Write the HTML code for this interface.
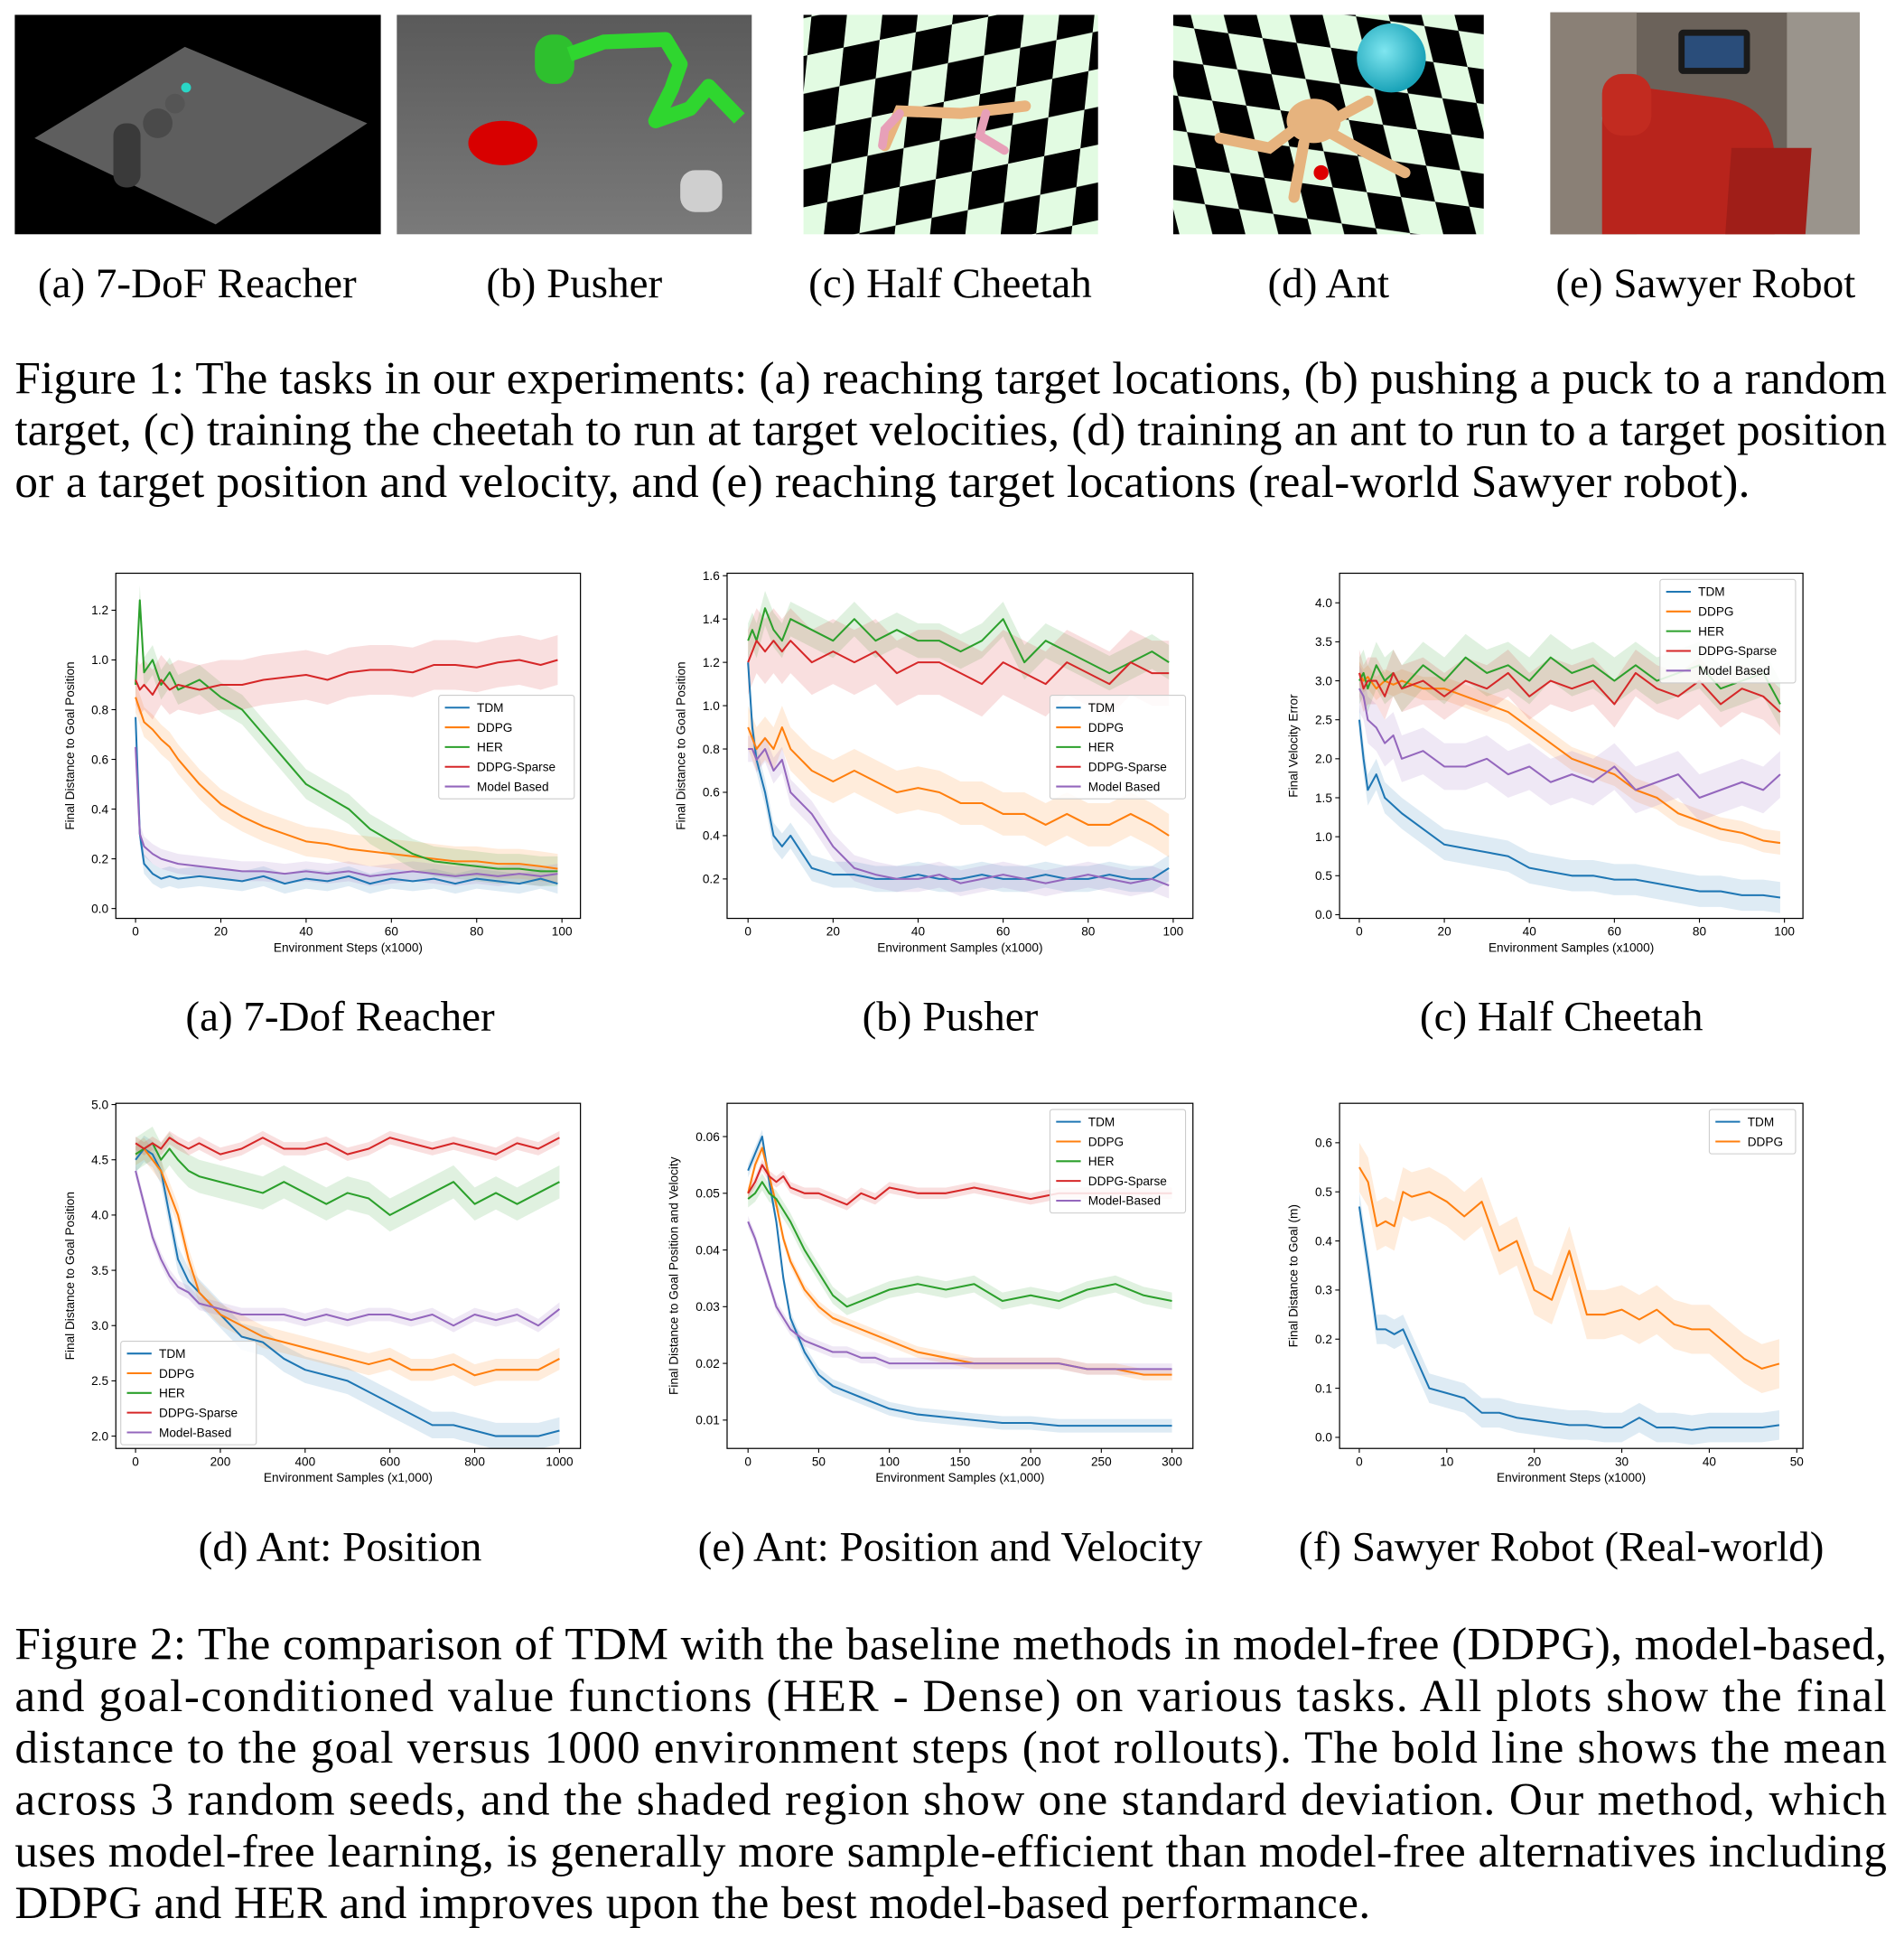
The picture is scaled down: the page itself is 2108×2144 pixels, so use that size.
<!DOCTYPE html>
<html><head><meta charset="utf-8"><style>
html,body{margin:0;padding:0;background:#fff;}
svg{display:block;}
</style></head><body>
<svg id="root" width="2108" height="2144" viewBox="0 0 1545 1571.3" xmlns="http://www.w3.org/2000/svg">
<defs>
<pattern id="chk" width="60" height="60" patternUnits="userSpaceOnUse" patternTransform="rotate(-12) skewX(-18)">
<rect width="60" height="60" fill="#e2fbe2"/><rect width="30" height="30" fill="#000"/><rect x="30" y="30" width="30" height="30" fill="#000"/>
</pattern>
<pattern id="chk2" width="56" height="56" patternUnits="userSpaceOnUse" patternTransform="rotate(8) skewX(22)">
<rect width="56" height="56" fill="#e2fbe2"/><rect width="28" height="28" fill="#000"/><rect x="28" y="28" width="28" height="28" fill="#000"/>
</pattern>
<linearGradient id="gpush" x1="0" y1="0" x2="0" y2="1"><stop offset="0" stop-color="#5a5a5a"/><stop offset="1" stop-color="#7a7a7a"/></linearGradient>
<radialGradient id="gball" cx="0.4" cy="0.4" r="0.6"><stop offset="0" stop-color="#7fe6f0"/><stop offset="1" stop-color="#1aa3b8"/></radialGradient>
</defs>

<g>
<rect x="12" y="12" width="297" height="178" fill="#000"/>
<polygon points="28,112 150,38 298,100 175,182" fill="#5e5e5e"/>
<rect x="92" y="100" width="22" height="52" rx="10" fill="#3a3a3a"/>
<circle cx="128" cy="100" r="12" fill="#4a4a4a"/><circle cx="142" cy="84" r="8" fill="#555"/>
<circle cx="151" cy="71" r="4" fill="#2ad6c6"/>
</g>
<g>
<rect x="322" y="12" width="288" height="178" fill="url(#gpush)"/>
<ellipse cx="408" cy="116" rx="28" ry="18" fill="#d80000"/>
<rect x="434" y="28" width="32" height="40" rx="14" fill="#2ec02e"/>
<polyline points="462,44 490,34 540,32 552,52 545,72 532,98 560,88 575,70 600,96" fill="none" stroke="#2fd62f" stroke-width="12" stroke-linejoin="round"/>
<rect x="552" y="138" width="34" height="34" rx="12" fill="#cfcfcf"/>
</g>
<g>
<rect x="652" y="12" width="239" height="178" fill="url(#chk)"/>
<polyline points="718,118 730,90 780,92 815,88 832,86" fill="none" stroke="#e9b37e" stroke-width="9" stroke-linecap="round"/>
<polyline points="730,92 718,105 716,118" fill="none" stroke="#e7a0b8" stroke-width="7" stroke-linecap="round"/>
<polyline points="800,92 795,110 815,122" fill="none" stroke="#e7a0b8" stroke-width="7" stroke-linecap="round"/>
</g>
<g>
<rect x="952" y="12" width="252" height="178" fill="url(#chk2)"/>
<circle cx="1129" cy="47" r="28" fill="url(#gball)"/>
<ellipse cx="1066" cy="98" rx="22" ry="18" fill="#e6b37e"/>
<polyline points="1050,105 1030,120 990,112" fill="none" stroke="#e6b37e" stroke-width="9" stroke-linecap="round"/>
<polyline points="1058,116 1050,160" fill="none" stroke="#e6b37e" stroke-width="9" stroke-linecap="round"/>
<polyline points="1080,108 1105,122 1140,140" fill="none" stroke="#e6b37e" stroke-width="9" stroke-linecap="round"/>
<polyline points="1084,96 1110,82" fill="none" stroke="#e6b37e" stroke-width="9" stroke-linecap="round"/>
<circle cx="1072" cy="140" r="6" fill="#d00"/>
</g>
<g>
<rect x="1258" y="10" width="251" height="180" fill="#6b625a"/>
<rect x="1258" y="10" width="70" height="180" fill="#8a8076"/>
<rect x="1450" y="10" width="59" height="180" fill="#9a948c"/>
<rect x="1362" y="24" width="58" height="36" rx="4" fill="#1a1a1a"/><rect x="1367" y="29" width="48" height="26" fill="#2a4d7a"/>
<path d="M1300,190 L1300,100 Q1300,70 1340,72 L1400,80 Q1440,88 1440,130 L1440,190 Z" fill="#b8241c"/>
<path d="M1400,190 L1405,120 L1470,120 L1465,190 Z" fill="#a01e18"/>
<rect x="1300" y="60" width="40" height="50" rx="16" fill="#c22b20"/>
</g>
<g font-family="Liberation Serif, serif" font-size="34.5" fill="#000" text-anchor="middle">
<text x="160" y="241">(a) 7-DoF Reacher</text>
<text x="466" y="241">(b) Pusher</text>
<text x="771" y="241">(c) Half Cheetah</text>
<text x="1078" y="241">(d) Ant</text>
<text x="1384" y="241">(e) Sawyer Robot</text>
</g>
<g font-family="Liberation Serif, serif" font-size="37.5" fill="#000">
<text x="12" y="319" textLength="1519" lengthAdjust="spacing">Figure 1: The tasks in our experiments: (a) reaching target locations, (b) pushing a puck to a random</text>
<text x="12" y="361" textLength="1519" lengthAdjust="spacing">target, (c) training the cheetah to run at target velocities, (d) training an ant to run to a target position</text>
<text x="12" y="403" textLength="1408" lengthAdjust="spacing">or a target position and velocity, and (e) reaching target locations (real-world Sawyer robot).</text>
</g>

<g id="charts"></g>

<g font-family="Liberation Serif, serif" font-size="34.5" fill="#000" text-anchor="middle">
<text x="276" y="836">(a) 7-Dof Reacher</text>
<text x="771" y="836">(b) Pusher</text>
<text x="1267" y="836">(c) Half Cheetah</text>
<text x="276" y="1266">(d) Ant: Position</text>
<text x="771" y="1266">(e) Ant: Position and Velocity</text>
<text x="1267" y="1266">(f) Sawyer Robot (Real-world)</text>
</g>
<g font-family="Liberation Serif, serif" font-size="37.5" fill="#000">
<text x="12" y="1346" textLength="1519" lengthAdjust="spacing">Figure 2: The comparison of TDM with the baseline methods in model-free (DDPG), model-based,</text>
<text x="12" y="1388" textLength="1519" lengthAdjust="spacing">and goal-conditioned value functions (HER - Dense) on various tasks.  All plots show the final</text>
<text x="12" y="1430" textLength="1519" lengthAdjust="spacing">distance to the goal versus 1000 environment steps (not rollouts).  The bold line shows the mean</text>
<text x="12" y="1472" textLength="1519" lengthAdjust="spacing">across 3 random seeds, and the shaded region show one standard deviation.  Our method, which</text>
<text x="12" y="1514" textLength="1519" lengthAdjust="spacing">uses model-free learning, is generally more sample-efficient than model-free alternatives including</text>
<text x="12" y="1556" textLength="1100" lengthAdjust="spacing">DDPG and HER and improves upon the best model-based performance.</text>
</g>
</svg>
<script>
// ---- data ----
const seriesNames5 = ["TDM","DDPG","HER","DDPG-Sparse","Model Based"];
const seriesNames5b = ["TDM","DDPG","HER","DDPG-Sparse","Model-Based"];
const seriesNames2 = ["TDM","DDPG"];

const xA = [0,1,2,4,6,8,10,15,20,25,30,35,40,45,50,55,60,65,70,75,80,85,90,95,99];
const aTDM = [0.77,0.3,0.18,0.14,0.12,0.13,0.12,0.13,0.12,0.11,0.13,0.10,0.12,0.11,0.13,0.10,0.12,0.11,0.12,0.10,0.12,0.11,0.10,0.12,0.10];
const aDDPG = [0.85,0.8,0.75,0.72,0.68,0.65,0.6,0.5,0.42,0.37,0.33,0.3,0.27,0.26,0.24,0.23,0.22,0.21,0.2,0.19,0.19,0.18,0.18,0.17,0.16];
const aHER = [0.9,1.24,0.95,1.0,0.9,0.95,0.88,0.92,0.85,0.8,0.7,0.6,0.5,0.45,0.4,0.32,0.27,0.22,0.19,0.18,0.17,0.16,0.16,0.15,0.15];
const aSparse = [0.92,0.88,0.9,0.86,0.92,0.88,0.9,0.88,0.9,0.9,0.92,0.93,0.94,0.92,0.95,0.96,0.96,0.95,0.98,0.98,0.97,0.99,1.0,0.98,1.0];
const aMB = [0.65,0.3,0.25,0.22,0.2,0.19,0.18,0.17,0.16,0.15,0.15,0.14,0.15,0.14,0.15,0.13,0.14,0.15,0.14,0.13,0.14,0.13,0.14,0.13,0.14];
const aStd = [0.04,0.06,0.06,0.1,0.04];

const xB = xA;
const bTDM = [1.2,0.9,0.75,0.6,0.4,0.35,0.4,0.25,0.22,0.22,0.2,0.2,0.22,0.2,0.2,0.22,0.2,0.2,0.22,0.2,0.2,0.22,0.2,0.2,0.25];
const bDDPG = [0.9,0.85,0.8,0.85,0.8,0.9,0.8,0.7,0.65,0.7,0.65,0.6,0.62,0.6,0.55,0.55,0.5,0.5,0.45,0.5,0.45,0.45,0.5,0.45,0.4];
const bHER = [1.3,1.35,1.3,1.45,1.35,1.3,1.4,1.35,1.3,1.4,1.3,1.35,1.3,1.3,1.25,1.3,1.4,1.2,1.3,1.25,1.2,1.15,1.2,1.25,1.2];
const bSparse = [1.2,1.25,1.3,1.25,1.3,1.25,1.3,1.2,1.25,1.2,1.25,1.15,1.2,1.2,1.15,1.1,1.2,1.15,1.1,1.2,1.15,1.1,1.2,1.15,1.15];
const bMB = [0.8,0.8,0.75,0.8,0.7,0.75,0.6,0.5,0.35,0.25,0.22,0.2,0.2,0.22,0.18,0.2,0.22,0.2,0.18,0.2,0.22,0.2,0.18,0.2,0.17];
const bStd = [0.06,0.1,0.08,0.15,0.06];

const xC = xA;
const cTDM = [2.5,2.0,1.6,1.8,1.5,1.4,1.3,1.1,0.9,0.85,0.8,0.75,0.6,0.55,0.5,0.5,0.45,0.45,0.4,0.35,0.3,0.3,0.25,0.25,0.22];
const cDDPG = [3.1,3.0,3.05,2.9,3.0,2.95,3.0,2.9,2.9,2.8,2.7,2.6,2.4,2.2,2.0,1.9,1.8,1.6,1.5,1.3,1.2,1.1,1.05,0.95,0.92];
const cHER = [3.0,3.1,2.9,3.2,3.0,3.1,2.9,3.2,3.0,3.3,3.1,3.2,3.0,3.3,3.1,3.2,3.0,3.2,3.0,3.1,3.2,2.9,3.0,3.1,2.7];
const cSparse = [3.1,2.9,3.0,3.0,2.8,3.1,2.9,3.0,2.8,3.0,2.9,3.1,2.8,3.0,2.9,3.0,2.7,3.1,2.9,2.8,3.0,2.7,2.9,2.8,2.6];
const cMB = [2.9,2.8,2.5,2.4,2.2,2.3,2.0,2.1,1.9,1.9,2.0,1.8,1.9,1.7,1.8,1.7,1.9,1.6,1.7,1.8,1.5,1.6,1.7,1.6,1.8];
const cStd = [0.2,0.15,0.3,0.3,0.3];

const xD = [0,20,40,60,80,100,125,150,200,250,300,350,400,450,500,550,600,650,700,750,800,850,900,950,1000];
const dTDM = [4.5,4.6,4.55,4.4,4.0,3.6,3.4,3.3,3.1,2.9,2.85,2.7,2.6,2.55,2.5,2.4,2.3,2.2,2.1,2.1,2.05,2.0,2.0,2.0,2.05];
const dDDPG = [4.55,4.6,4.5,4.4,4.2,4.0,3.6,3.3,3.1,3.0,2.9,2.85,2.8,2.75,2.7,2.65,2.7,2.6,2.6,2.65,2.55,2.6,2.6,2.6,2.7];
const dHER = [4.55,4.6,4.65,4.5,4.6,4.5,4.4,4.35,4.3,4.25,4.2,4.3,4.2,4.1,4.2,4.15,4.0,4.1,4.2,4.3,4.1,4.2,4.1,4.2,4.3];
const dSparse = [4.65,4.6,4.65,4.6,4.7,4.65,4.6,4.65,4.55,4.6,4.7,4.6,4.6,4.65,4.55,4.6,4.7,4.65,4.6,4.65,4.6,4.55,4.65,4.6,4.7];
const dMB = [4.4,4.1,3.8,3.6,3.45,3.35,3.3,3.2,3.15,3.1,3.1,3.1,3.05,3.1,3.05,3.1,3.1,3.05,3.1,3.0,3.1,3.05,3.1,3.0,3.15];
const dStd = [0.12,0.1,0.15,0.06,0.06];

const xE = [0,5,10,15,20,25,30,40,50,60,70,80,90,100,120,140,160,180,200,220,240,260,280,300];
const eTDM = [0.054,0.057,0.06,0.052,0.045,0.035,0.028,0.022,0.018,0.016,0.015,0.014,0.013,0.012,0.011,0.0105,0.01,0.0095,0.0095,0.009,0.009,0.009,0.009,0.009];
const eDDPG = [0.05,0.055,0.058,0.053,0.048,0.042,0.038,0.033,0.03,0.028,0.027,0.026,0.025,0.024,0.022,0.021,0.02,0.02,0.02,0.02,0.019,0.019,0.018,0.018];
const eHER = [0.049,0.05,0.052,0.05,0.049,0.047,0.045,0.04,0.036,0.032,0.03,0.031,0.032,0.033,0.034,0.033,0.034,0.031,0.032,0.031,0.033,0.034,0.032,0.031];
const eSparse = [0.05,0.052,0.055,0.053,0.052,0.053,0.051,0.05,0.05,0.049,0.048,0.05,0.049,0.051,0.05,0.05,0.051,0.05,0.049,0.05,0.05,0.05,0.05,0.05];
const eMB = [0.045,0.042,0.038,0.034,0.03,0.028,0.026,0.024,0.023,0.022,0.022,0.021,0.021,0.02,0.02,0.02,0.02,0.02,0.02,0.02,0.019,0.019,0.019,0.019];
const eStd = [0.0012,0.001,0.0015,0.001,0.001];

const xF = [0,1,2,3,4,5,6,8,10,12,14,16,18,20,22,24,26,28,30,32,34,36,38,40,42,44,46,48];
const fTDM = [0.47,0.35,0.22,0.22,0.21,0.22,0.18,0.1,0.09,0.08,0.05,0.05,0.04,0.035,0.03,0.025,0.025,0.02,0.02,0.04,0.02,0.02,0.015,0.02,0.02,0.02,0.02,0.025];
const fDDPG = [0.55,0.52,0.43,0.44,0.43,0.5,0.49,0.5,0.48,0.45,0.48,0.38,0.4,0.3,0.28,0.38,0.25,0.25,0.26,0.24,0.26,0.23,0.22,0.22,0.19,0.16,0.14,0.15];
const fStd = [0.03,0.05];

const ticksAx = [0,20,40,60,80,100], ticksAy = [0.0,0.2,0.4,0.6,0.8,1.0,1.2];
const ticksBy = [0.2,0.4,0.6,0.8,1.0,1.2,1.4,1.6];
const ticksCy = [0.0,0.5,1.0,1.5,2.0,2.5,3.0,3.5,4.0];
const ticksDx = [0,200,400,600,800,1000], ticksDy = [2.0,2.5,3.0,3.5,4.0,4.5,5.0];
const ticksEx = [0,50,100,150,200,250,300], ticksEy = [0.01,0.02,0.03,0.04,0.05,0.06];
const ticksFx = [0,10,20,30,40,50], ticksFy = [0.0,0.1,0.2,0.3,0.4,0.5,0.6];

const COLORS = ["#1f77b4","#ff7f0e","#2ca02c","#d62728","#9467bd"];
const NS = "http://www.w3.org/2000/svg";
const root = document.getElementById('charts');
function mk(tag, attrs, parent){const e=document.createElementNS(NS,tag);for(const k in attrs)e.setAttribute(k,attrs[k]);if(parent)parent.appendChild(e);return e;}

function chart(id, box, xm, ym, xs, ys, names, std, xt, yt, ydec, xlab, ylab, leg){
  const [L,T,R,B]=box;
  const X=v=>xm[1]+(v-xm[0])*(xm[3]-xm[1])/(xm[2]-xm[0]);
  const Y=v=>ym[1]+(v-ym[0])*(ym[3]-ym[1])/(ym[2]-ym[0]);
  const g=mk('g',{},root);
  
  
  const cp=mk('clipPath',{id:'clip'+id},g); mk('rect',{x:L,y:T,width:R-L,height:B-T},cp);
  const plot=mk('g',{'clip-path':'url(#clip'+id+')'},g);
  ys.forEach((s,i)=>{
    let up=xs.map((x,j)=>X(x)+','+Y(s[j]+std[i])).join(' ');
    let dn=xs.map((x,j)=>X(x)+','+Y(s[j]-std[i])).reverse().join(' ');
    const band=mk('polygon',{points:up+' '+dn,fill:COLORS[i],'fill-opacity':0.15},plot);
    
    
  });
  ys.forEach((s,i)=>{
    const ln=mk('polyline',{points:xs.map((x,j)=>X(x)+','+Y(s[j])).join(' '),fill:'none',stroke:COLORS[i],'stroke-width':1.5,'stroke-linejoin':'round'},plot);
    
    
  });
  const fr=mk('rect',{x:L,y:T,width:R-L,height:B-T,fill:'none',stroke:'#000','stroke-width':0.9},g);
  
  
  const ax=mk('g',{'font-family':'Liberation Sans, sans-serif','font-size':10,fill:'#000'},g);
  xt.forEach(v=>{
    mk('line',{x1:X(v),x2:X(v),y1:B,y2:B+3.5,stroke:'#000','stroke-width':0.8},ax);
    const t=mk('text',{x:X(v),y:B+14,'text-anchor':'middle'},ax); t.textContent=String(v);
    
    
  });
  yt.forEach(v=>{
    mk('line',{x1:L-3.5,x2:L,y1:Y(v),y2:Y(v),stroke:'#000','stroke-width':0.8},ax);
    const t=mk('text',{x:L-6,y:Y(v)+3.5,'text-anchor':'end'},ax); t.textContent=v.toFixed(ydec);
    
    
  });
  const xl=mk('text',{x:(L+R)/2,y:B+27,'text-anchor':'middle'},ax); xl.textContent=xlab;
  
  
  const ylx=L-ydec*6-28, ylyc=(T+B)/2;
  const yl=mk('text',{x:ylx,y:ylyc,'text-anchor':'middle',transform:'rotate(-90 '+ylx+' '+ylyc+')'},ax); yl.textContent=ylab;
  
  
  const lg=mk('g',{},g);
  
  
  mk('rect',{x:leg[0],y:leg[1],width:leg[2],height:names.length*16+4,rx:2,fill:'#fff','fill-opacity':0.85,stroke:'#ccc','stroke-width':0.8},lg);
  names.forEach((n,i)=>{
    const yy=leg[1]+10+i*16;
    const e=mk('g',{},lg);
    
    
    mk('line',{x1:leg[0]+5,x2:leg[0]+25,y1:yy,y2:yy,stroke:COLORS[i],'stroke-width':1.5},e);
    const t=mk('text',{x:leg[0]+31,y:yy+3.5,'font-family':'Liberation Sans, sans-serif','font-size':10},e); t.textContent=n;
  });
}
chart('a',[94,465,471,745],[0,110,100,456],[0,737,1.2,495],xA,[aTDM,aDDPG,aHER,aSparse,aMB],seriesNames5,aStd,ticksAx,ticksAy,1,'Environment Steps (x1000)','Final Distance to Goal Position',[356,564,110]);
chart('b',[590,465,968,745],[0,607,100,952],[0.2,713,1.6,467],xB,[bTDM,bDDPG,bHER,bSparse,bMB],seriesNames5,bStd,ticksAx,ticksBy,1,'Environment Samples (x1000)','Final Distance to Goal Position',[852,564,110]);
chart('c',[1087,465,1463,745],[0,1103,100,1448],[0,742,4,489],xC,[cTDM,cDDPG,cHER,cSparse,cMB],seriesNames5,cStd,ticksAx,ticksCy,1,'Environment Samples (x1000)','Final Velocity Error',[1347,470,110]);
chart('d',[94,895,471,1175],[0,110,1000,454],[2,1165,5,896],xD,[dTDM,dDDPG,dHER,dSparse,dMB],seriesNames5b,dStd,ticksDx,ticksDy,1,'Environment Samples (x1,000)','Final Distance to Goal Position',[98,1088,110]);
chart('e',[590,895,968,1175],[0,607,300,951],[0.01,1152,0.06,922],xE,[eTDM,eDDPG,eHER,eSparse,eMB],seriesNames5b,eStd,ticksEx,ticksEy,2,'Environment Samples (x1,000)','Final Distance to Goal Position and Velocity',[852,900,110]);
chart('f',[1087,895,1463,1175],[0,1103,50,1458],[0,1166,0.6,927],xF,[fTDM,fDDPG],seriesNames2,fStd,ticksFx,ticksFy,1,'Environment Steps (x1000)','Final Distance to Goal (m)',[1387,900,70]);
</script>
</body></html>
